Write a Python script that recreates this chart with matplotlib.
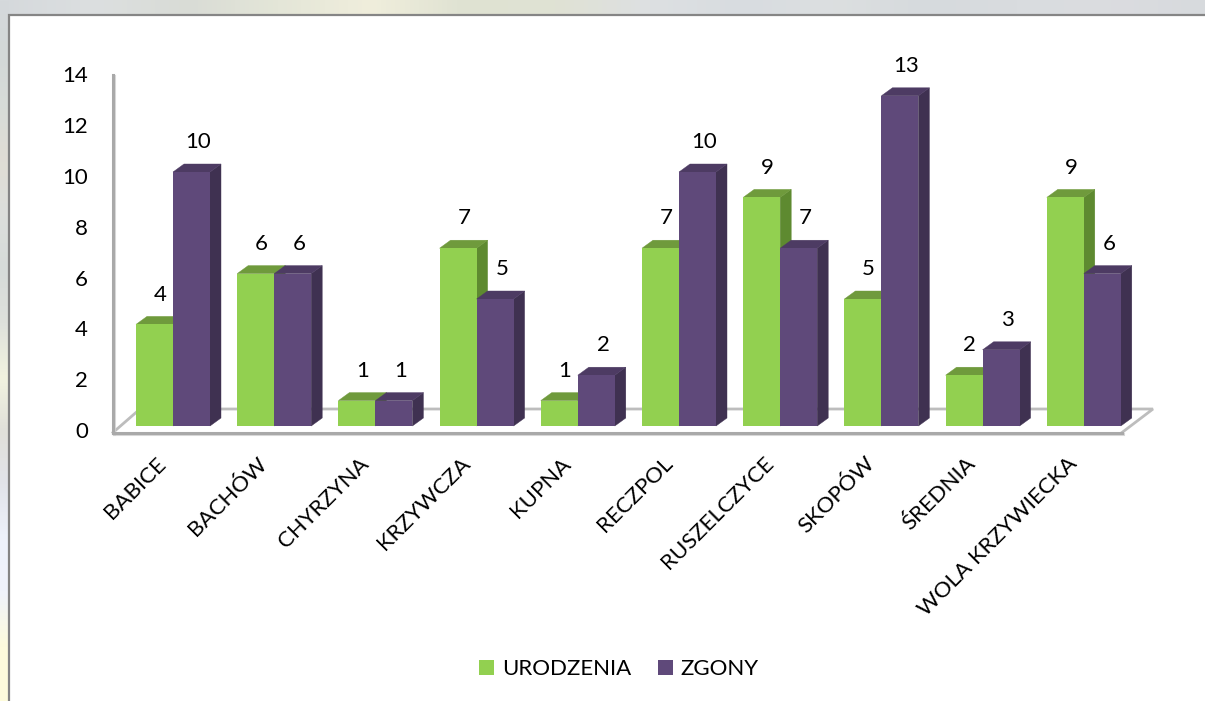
import numpy as np
import matplotlib
matplotlib.use("Agg")
import matplotlib.pyplot as plt
import matplotlib.patheffects as pe
from matplotlib.patches import Polygon, Rectangle, Patch
from matplotlib.colors import LinearSegmentedColormap, to_rgb
from matplotlib.transforms import ScaledTranslation

plt.rcParams["font.family"] = ["Lato", "DejaVu Sans"]

categories = ["BABICE", "BACHÓW", "CHYRZYNA", "KRZYWCZA", "KUPNA", "RECZPOL",
              "RUSZELCZYCE", "SKOPÓW", "ŚREDNIA", "WOLA KRZYWIECKA"]
urodzenia = [4, 6, 1, 7, 1, 7, 9, 5, 2, 9]
zgony = [10, 6, 1, 5, 2, 10, 7, 13, 3, 6]
y_ticks = [0, 2, 4, 6, 8, 10, 12, 14]

# backdrop photo behind the chart panel, only the edges show
top_strip = ["#d5d9dc", "#dcdfe0", "#d9dcd6", "#e4e6d8", "#f0eedc", "#dfe2d2", "#e0e2d4", "#dde0e2",
             "#d8dce0", "#dcdfe0", "#d6dadd", "#d9dcdf", "#dbdce0", "#d7dadd"]
left_strip = ["#d5d9dc", "#d3d8d8", "#d8dcd8", "#e0ddd5", "#dcdfdc", "#d6dbd9", "#dfe1dc", "#f2f3e0",
              "#e0e0da", "#e2e4ea", "#eef2fb", "#f0f3fb", "#fdfbdc", "#fefcdc"]

GREEN = ("#92d050", "#6f9a3c", "#5e8a30")
PURPLE = ("#5f497a", "#4d3b63", "#3f3151")
AXIS_GREY = "#a9a9a9"
FS = 16

W, H = 1205, 701
PX_X, PX_Y = 101.2, 25.4   # pixels per category / per unit
X0, Y0 = 173, 426          # pixel of category 0 and of value 0
AX_L, AX_R, AX_T, AX_B = 113, 1153, 50, 432.5
BAR_W = 37 / PX_X
DX, DY = 11 / PX_X, 8 / PX_Y

fig = plt.figure(figsize=(W / 100, H / 100), dpi=100)

# backdrop
bg = fig.add_axes([0, 0, 1, 1], zorder=0)
bg.axis("off")
cm_top = LinearSegmentedColormap.from_list("top", [to_rgb(c) for c in top_strip])
cm_left = LinearSegmentedColormap.from_list("left", [to_rgb(c) for c in left_strip])
bg.imshow(np.linspace(0, 1, 256)[None, :], cmap=cm_top, extent=(0, W, 16, 0), aspect="auto")
bg.imshow(np.linspace(0, 1, 256)[:, None], cmap=cm_left, extent=(0, 9, H, 0), aspect="auto")
bg.set_xlim(0, W)
bg.set_ylim(H, 0)
bg.add_patch(Rectangle((8.5, 14.5), W, H, fc="white", ec="#858585", lw=1.6))

ax = fig.add_axes([AX_L / W, 1 - AX_B / H, (AX_R - AX_L) / W, (AX_B - AX_T) / H], zorder=1)
ax.patch.set_alpha(0)
ax.set_xlim((AX_L - X0) / PX_X, (AX_R - X0) / PX_X)
ax.set_ylim((Y0 - AX_B) / PX_Y, (Y0 - AX_T) / PX_Y)

shadow = [pe.SimpleLineShadow(offset=(1, -1), shadow_color="#d0d0d0", alpha=0.8), pe.Normal()]
for s in ["top", "right"]:
    ax.spines[s].set_visible(False)
for s in ["left", "bottom"]:
    ax.spines[s].set_color(AXIS_GREY)
    ax.spines[s].set_linewidth(2.2)
    ax.spines[s].set_path_effects(shadow)
ax.spines["left"].set_bounds((Y0 - AX_B) / PX_Y, (Y0 - 75) / PX_Y)
ax.spines["bottom"].set_bounds((AX_L - X0) / PX_X, (1122 - X0) / PX_X)

# floor of the 3d box
y_front = (Y0 - AX_B) / PX_Y
y_back = (Y0 - 409) / PX_Y
x_back_l = (140 - X0) / PX_X
x_back_r = (AX_R - X0) / PX_X
x_l, x_r = (AX_L - X0) / PX_X, (1122 - X0) / PX_X
ax.plot([x_l, x_back_l, x_back_r, x_r], [y_front, y_back, y_back, y_front],
        color="#bdbdbd", lw=2.0, zorder=1, clip_on=False, solid_joinstyle="miter")


def bar3d(x, v, cols):
    front, top, side = cols
    ax.add_patch(Polygon([(x + BAR_W, 0), (x + BAR_W + DX, DY), (x + BAR_W + DX, v + DY), (x + BAR_W, v)],
                         fc=side, ec=side, lw=0.3, zorder=2))
    ax.add_patch(Polygon([(x, v), (x + DX, v + DY), (x + BAR_W + DX, v + DY), (x + BAR_W, v)],
                         fc=top, ec=top, lw=0.3, zorder=2))
    ax.bar(x, v, BAR_W, align="edge", color=front, zorder=2)


for i, (u, z) in enumerate(zip(urodzenia, zgony)):
    bar3d(i - BAR_W, u, GREEN)
    bar3d(i, z, PURPLE)
    ax.annotate(str(u), (i - BAR_W / 2, u), xytext=(4.2, 21.5), textcoords="offset points",
                ha="center", va="center", fontsize=FS, color="black", zorder=4)
    ax.annotate(str(z), (i + BAR_W / 2, z), xytext=(4.8, 21.5), textcoords="offset points",
                ha="center", va="center", fontsize=FS, color="black", zorder=4)

ax.set_yticks(y_ticks)
ax.set_yticklabels([str(v) for v in y_ticks])
ax.tick_params(axis="y", length=0, pad=18, labelsize=FS)
for t in ax.get_yticklabels():
    t.set_transform(t.get_transform() + ScaledTranslation(0, -0.04, fig.dpi_scale_trans))

ax.set_xticks(range(len(categories)))
ax.set_xticklabels(categories, rotation=45, ha="right", rotation_mode="anchor")
ax.tick_params(axis="x", length=0, pad=15, labelsize=FS)
for t in ax.get_xticklabels():
    t.set_transform(t.get_transform() + ScaledTranslation(-0.17, 0, fig.dpi_scale_trans))

handles = [Patch(fc=GREEN[0], label="URODZENIA"), Patch(fc=PURPLE[0], label="ZGONY")]
fig.legend(handles=handles, loc="center", bbox_to_anchor=(619 / W, 1 - 669 / H), ncol=2, frameon=False,
           fontsize=FS, handlelength=0.68, handleheight=0.68, handletextpad=0.35, columnspacing=1.2,
           borderpad=0, borderaxespad=0)

fig.savefig("out.png", dpi=100)
